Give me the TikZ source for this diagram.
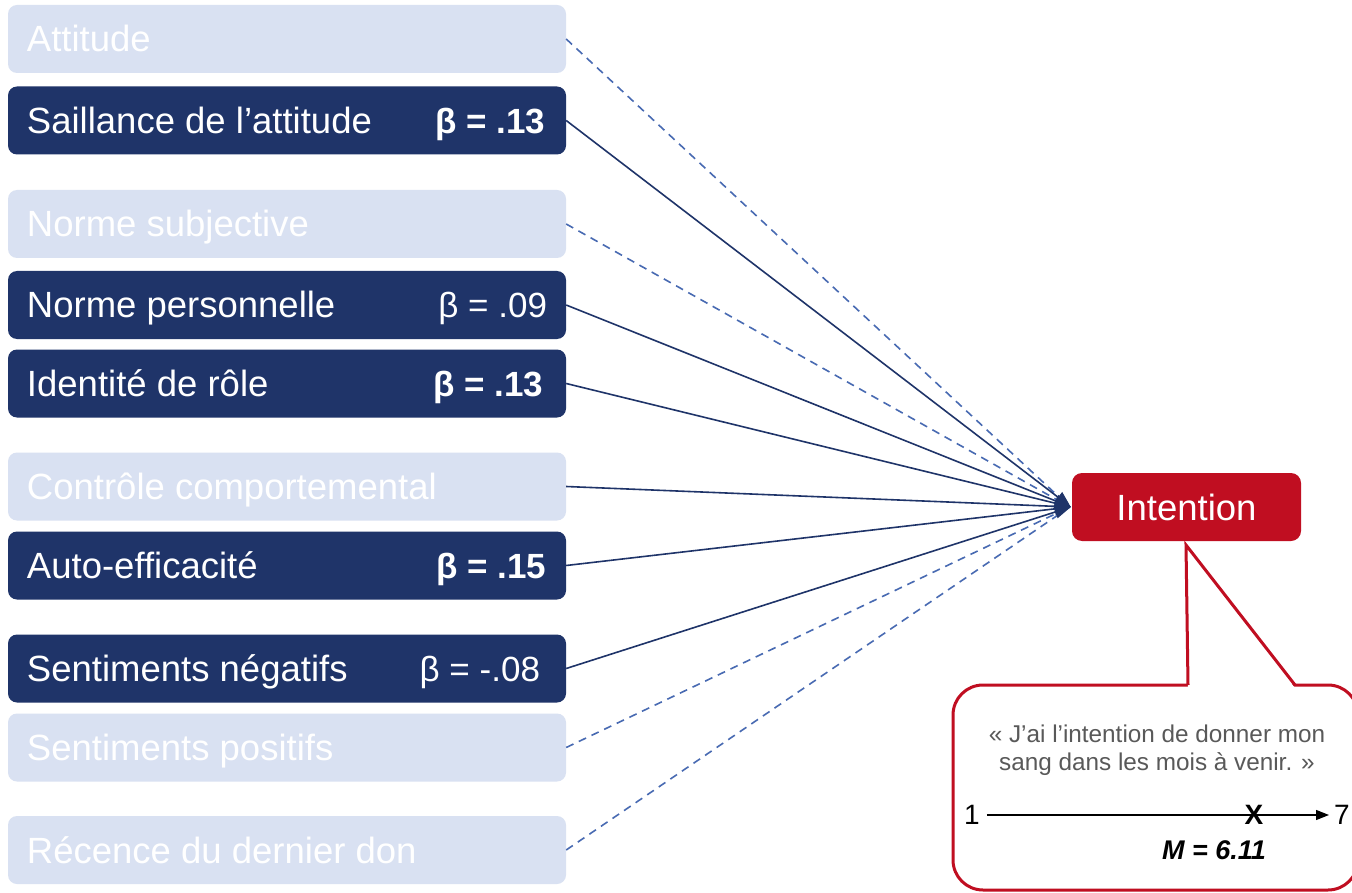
\documentclass[tikz,border=0pt]{standalone}
\usepackage{fontspec}
\setmainfont{Liberation Sans}
\usetikzlibrary{arrows.meta}
\definecolor{navy}{RGB}{31,52,105}
\definecolor{pale}{RGB}{217,225,242}
\definecolor{dashblue}{RGB}{72,106,178}
\definecolor{ired}{RGB}{192,14,33}
\definecolor{txtgray}{RGB}{89,89,89}
\tikzset{
  boxbase/.style={minimum width=558pt, minimum height=68pt, inner sep=0pt, rounded corners=9pt},
  darkbox/.style={boxbase, fill=navy},
  lightbox/.style={boxbase, fill=pale},
  lbl/.style={text=white, inner sep=0pt, font=\fontsize{36.5}{40}\selectfont, anchor=base west},
  beta/.style={text=white, inner sep=0pt, font=\fontsize{35}{40}\selectfont, anchor=base east},
  betab/.style={beta, font=\fontsize{35}{40}\selectfont\bfseries},
  solidln/.style={draw=navy, line width=1.6pt, -{Triangle[length=16pt,width=13pt]}},
  dashln/.style={draw=dashblue, line width=1.6pt, dash pattern=on 8pt off 6pt},
  intbox/.style={fill=ired, minimum width=229pt, minimum height=68pt, inner sep=0pt, rounded corners=10pt, text=white, font=\fontsize{36.5}{40}\selectfont},
  callout/.style={draw=ired, line width=3pt, fill=white},
  qtxt/.style={text=txtgray, inner sep=0pt, font=\fontsize{24.3}{28}\selectfont, anchor=base},
  scl/.style={inner sep=0pt, font=\fontsize{28}{30}\selectfont},
}
\begin{document}
\begin{tikzpicture}[x=1pt,y=-1pt]
\useasboundingbox (0,0) rectangle (1352,893);
\fill[white] (0,0) rectangle (1352,893);

% left boxes
\node[lightbox] (b1) at (287,39) {};
\node[darkbox]  (b2) at (287,120.5) {};
\node[lightbox] (b3) at (287,224) {};
\node[darkbox]  (b4) at (287,305) {};
\node[darkbox]  (b5) at (287,383.5) {};
\node[lightbox] (b6) at (287,486.5) {};
\node[darkbox]  (b7) at (287,565.5) {};
\node[darkbox]  (b8) at (287,668.5) {};
\node[lightbox] (b9) at (287,747.5) {};
\node[lightbox] (b10) at (287,850) {};

\foreach \b/\t in {b1/Attitude, b2/Saillance de l’attitude, b3/Norme subjective, b4/Norme personnelle, b5/Identité de rôle, b6/Contrôle comportemental, b7/Auto-efficacité, b8/Sentiments négatifs, b9/Sentiments positifs, b10/Récence du dernier don}
  \node[lbl] (\b t) at ([xshift=19pt,yshift=-13pt]\b.west) {\t};

\node[betab] (b2v) at ([xshift=-21pt,yshift=-13pt]b2.east) {β = .13};
\node[beta]  (b4v) at ([xshift=-19pt,yshift=-13pt]b4.east) {β = .09};
\node[betab] (b5v) at ([xshift=-23pt,yshift=-13pt]b5.east) {β = .13};
\node[betab] (b7v) at ([xshift=-20pt,yshift=-13pt]b7.east) {β = .15};
\node[beta]  (b8v) at ([xshift=-26pt,yshift=-13pt]b8.east) {β = -.08};

% intention
\node[intbox] (int) at (1186.5,507) {Intention};

% connectors
\foreach \b in {b1,b3,b9,b10}
  \draw[dashln] (\b.east) -- ([xshift=-2pt]int.west);
\foreach \b in {b2,b4,b5,b6,b7,b8}
  \draw[solidln] (\b.east) -- ([xshift=-1pt]int.west);

% callout
\coordinate (ptip) at (1186,545);
\coordinate (pl) at (1188,685);
\coordinate (pr) at (1295,685);
\draw[callout, rounded corners=30pt] (953,685) rectangle (1358,890);
\fill[white] (ptip) -- ([yshift=-3pt]pl) -- ([yshift=-3pt]pr) -- cycle;
\fill[white] (pl) ++(0,-1.4) rectangle ([yshift=1.6pt]pr);
\draw[draw=ired, line width=3pt, line join=miter] (pl) -- (ptip) -- (pr);

\node[qtxt] (q1) at (1157,742) {« J’ai l’intention de donner mon};
\node[qtxt] (q2) at (1157,770) {sang dans les mois à venir. »};

\node[scl] (s1) at (972,815) {1};
\node[scl] (s7) at (1342,815) {7};
\draw[line width=1.2pt, -{Triangle[length=13pt,width=10pt]}] ([xshift=7pt]s1.east) -- ([xshift=-5pt]s7.west);
\node[scl, font=\fontsize{28}{30}\selectfont\bfseries] (sx) at (1254,815) {X};
\node[scl, font=\fontsize{27}{30}\selectfont\bfseries\itshape] (sm) at (1214,850) {M = 6.11};
\end{tikzpicture}
\end{document}
